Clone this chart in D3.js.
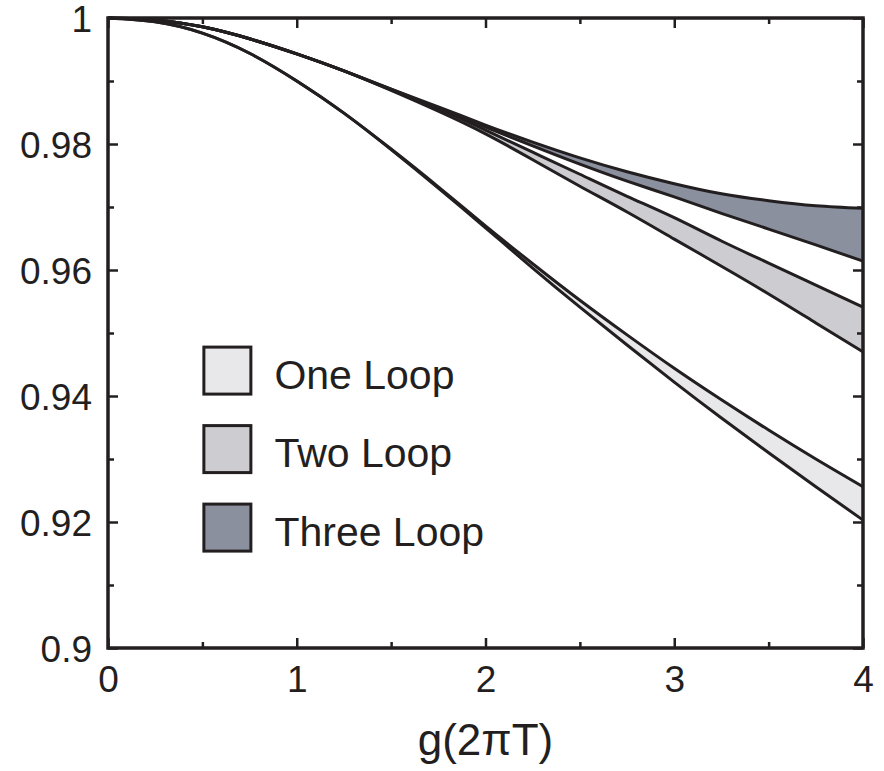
<!DOCTYPE html>
<html>
<head>
<meta charset="utf-8">
<script src="https://cdn.jsdelivr.net/npm/d3@7"></script>
<style>
	body { margin: 0; background: #fff; }
	svg text { font-family: "Liberation Sans", Arial, Helvetica, sans-serif; fill: #231f20; }
</style>
</head>
<body>
<div class="container"></div>
<script>

const gValues = [0, 0.25, 0.5, 0.75, 1, 1.25, 1.5, 1.75, 2, 2.25, 2.5, 2.75, 3, 3.25, 3.5, 3.75, 4];

const oneLoopUpper = [1, 0.9994, 0.9976, 0.9944, 0.9900, 0.9849, 0.9792, 0.9732, 0.9670, 0.9610, 0.9552, 0.9497, 0.9444, 0.9394, 0.9346, 0.9300, 0.9256];
const oneLoopLower = [1, 0.9994, 0.9976, 0.9944, 0.9900, 0.9849, 0.9791, 0.9730, 0.9667, 0.9603, 0.9541, 0.9481, 0.9422, 0.9365, 0.9310, 0.9256, 0.9203];

const twoLoopUpper = [1, 0.9997, 0.9986, 0.9967, 0.9943, 0.9916, 0.9886, 0.9856, 0.9822, 0.9787, 0.9752, 0.9717, 0.9683, 0.9646, 0.9611, 0.9576, 0.9541];
const twoLoopLower = [1, 0.9997, 0.9986, 0.9967, 0.9943, 0.9916, 0.9885, 0.9852, 0.9816, 0.9775, 0.9733, 0.9692, 0.9649, 0.9606, 0.9562, 0.9516, 0.9470];

const threeLoopUpper = [1, 0.9997, 0.9986, 0.9967, 0.9943, 0.9916, 0.9887, 0.9859, 0.9830, 0.9803, 0.9778, 0.9756, 0.9737, 0.9721, 0.9710, 0.9702, 0.9698];
const threeLoopLower = [1, 0.9997, 0.9986, 0.9967, 0.9943, 0.9916, 0.9887, 0.9857, 0.9827, 0.9797, 0.9768, 0.9741, 0.9716, 0.9690, 0.9665, 0.9640, 0.9614];

const bandNames = ["One Loop", "Two Loop", "Three Loop"];

const xTicks = [0, 1, 2, 3, 4];
const xTickLabels = ["0", "1", "2", "3", "4"];
const xMinorTicks = [0.5, 1.5, 2.5, 3.5];
const yTicks = [0.9, 0.92, 0.94, 0.96, 0.98, 1];
const yTickLabels = ["0.9", "0.92", "0.94", "0.96", "0.98", "1"];
const yMinorTicks = [0.91, 0.93, 0.95, 0.97, 0.99];
const xTitle = "g(2πT)";

const ink = "#231f20";
const bandColors = ["#e8e8eb", "#ccccd1", "#8a909e"];

const width = 884, height = 771;
const margin = { top: 18, right: 21, bottom: 123, left: 108 };
const innerW = width - margin.left - margin.right;
const innerH = height - margin.top - margin.bottom;

const svg = d3.select(".container")
	.append("svg")
		.attr("width", width)
		.attr("height", height);

const plot = svg.append("g")
	.attr("transform", `translate(${margin.left}, ${margin.top})`);

const x = d3.scaleLinear().domain([0, 4]).range([0, innerW]);
const y = d3.scaleLinear().domain([0.9, 1]).range([innerH, 0]);

const bands = [
	{ name: bandNames[0], upper: oneLoopUpper, lower: oneLoopLower, color: bandColors[0] },
	{ name: bandNames[1], upper: twoLoopUpper, lower: twoLoopLower, color: bandColors[1] },
	{ name: bandNames[2], upper: threeLoopUpper, lower: threeLoopLower, color: bandColors[2] }
];

const area = d3.area()
	.x((d) => x(d.g))
	.y0((d) => y(d.lo))
	.y1((d) => y(d.hi))
	.curve(d3.curveNatural);

const line = d3.line()
	.x((d) => x(d.g))
	.y((d) => y(d.v))
	.curve(d3.curveNatural);

bands.forEach((band) => {
	const rows = gValues.map((g, i) => ({ g: g, hi: band.upper[i], lo: band.lower[i] }));

	plot.append("path")
		.datum(rows)
		.attr("d", area)
		.attr("fill", band.color);

	[band.upper, band.lower].forEach((series) => {
		plot.append("path")
			.datum(gValues.map((g, i) => ({ g: g, v: series[i] })))
			.attr("d", line)
			.attr("fill", "none")
			.attr("stroke", ink)
			.attr("stroke-width", 3)
			.attr("stroke-linejoin", "round");
	});
});

// axes: ticks point inward on all four sides
function styleAxis(g) {
	g.select(".domain").remove();
	g.selectAll(".tick line").attr("stroke", ink).attr("stroke-width", 2.5);
	g.selectAll(".tick text").attr("font-size", 37).attr("fill", ink);
}

plot.append("g")
	.attr("transform", `translate(0, ${innerH})`)
	.call(d3.axisBottom(x).tickValues(xTicks).tickSizeInner(-10).tickSizeOuter(0).tickPadding(18)
		.tickFormat((d, i) => xTickLabels[i]))
	.call(styleAxis)
	.call((g) => g.selectAll(".tick text").attr("dy", "0.71em"));

plot.append("g")
	.attr("transform", `translate(0, ${innerH})`)
	.call(d3.axisBottom(x).tickValues(xMinorTicks).tickSizeInner(-6).tickSizeOuter(0).tickFormat(""))
	.call(styleAxis);

plot.append("g")
	.call(d3.axisTop(x).tickValues(xTicks).tickSizeInner(-10).tickSizeOuter(0).tickFormat(""))
	.call(styleAxis);

plot.append("g")
	.call(d3.axisTop(x).tickValues(xMinorTicks).tickSizeInner(-6).tickSizeOuter(0).tickFormat(""))
	.call(styleAxis);

plot.append("g")
	.call(d3.axisLeft(y).tickValues(yTicks).tickSizeInner(-10).tickSizeOuter(0).tickPadding(16)
		.tickFormat((d, i) => yTickLabels[i]))
	.call(styleAxis)
	.call((g) => g.selectAll(".tick text").attr("dy", "0.36em"));

plot.append("g")
	.call(d3.axisLeft(y).tickValues(yMinorTicks).tickSizeInner(-6).tickSizeOuter(0).tickFormat(""))
	.call(styleAxis);

plot.append("g")
	.attr("transform", `translate(${innerW}, 0)`)
	.call(d3.axisRight(y).tickValues(yTicks).tickSizeInner(-10).tickSizeOuter(0).tickFormat(""))
	.call(styleAxis);

plot.append("g")
	.attr("transform", `translate(${innerW}, 0)`)
	.call(d3.axisRight(y).tickValues(yMinorTicks).tickSizeInner(-6).tickSizeOuter(0).tickFormat(""))
	.call(styleAxis);

plot.append("rect")
	.attr("width", innerW)
	.attr("height", innerH)
	.attr("fill", "none")
	.attr("stroke", ink)
	.attr("stroke-width", 3.5);

svg.append("text")
	.attr("x", margin.left + innerW / 2)
	.attr("y", 755)
	.attr("text-anchor", "middle")
	.attr("font-size", 44)
	.text(xTitle);

// legend
const legend = plot.append("g")
	.attr("transform", `translate(${x(0.5)}, ${y(0.948)})`);

const items = legend.selectAll("g.item")
	.data(bands)
		.enter()
	.append("g")
		.attr("class", "item")
		.attr("transform", (d, i) => `translate(0, ${i * 78.5})`);

items.append("rect")
	.attr("x", 1.5)
	.attr("y", 1.5)
	.attr("width", 47)
	.attr("height", 47)
	.attr("fill", (d) => d.color)
	.attr("stroke", ink)
	.attr("stroke-width", 3);

items.append("text")
	.attr("x", 72)
	.attr("y", 43)
	.attr("font-size", 41)
	.text((d) => d.name);

</script>
</body>
</html>
